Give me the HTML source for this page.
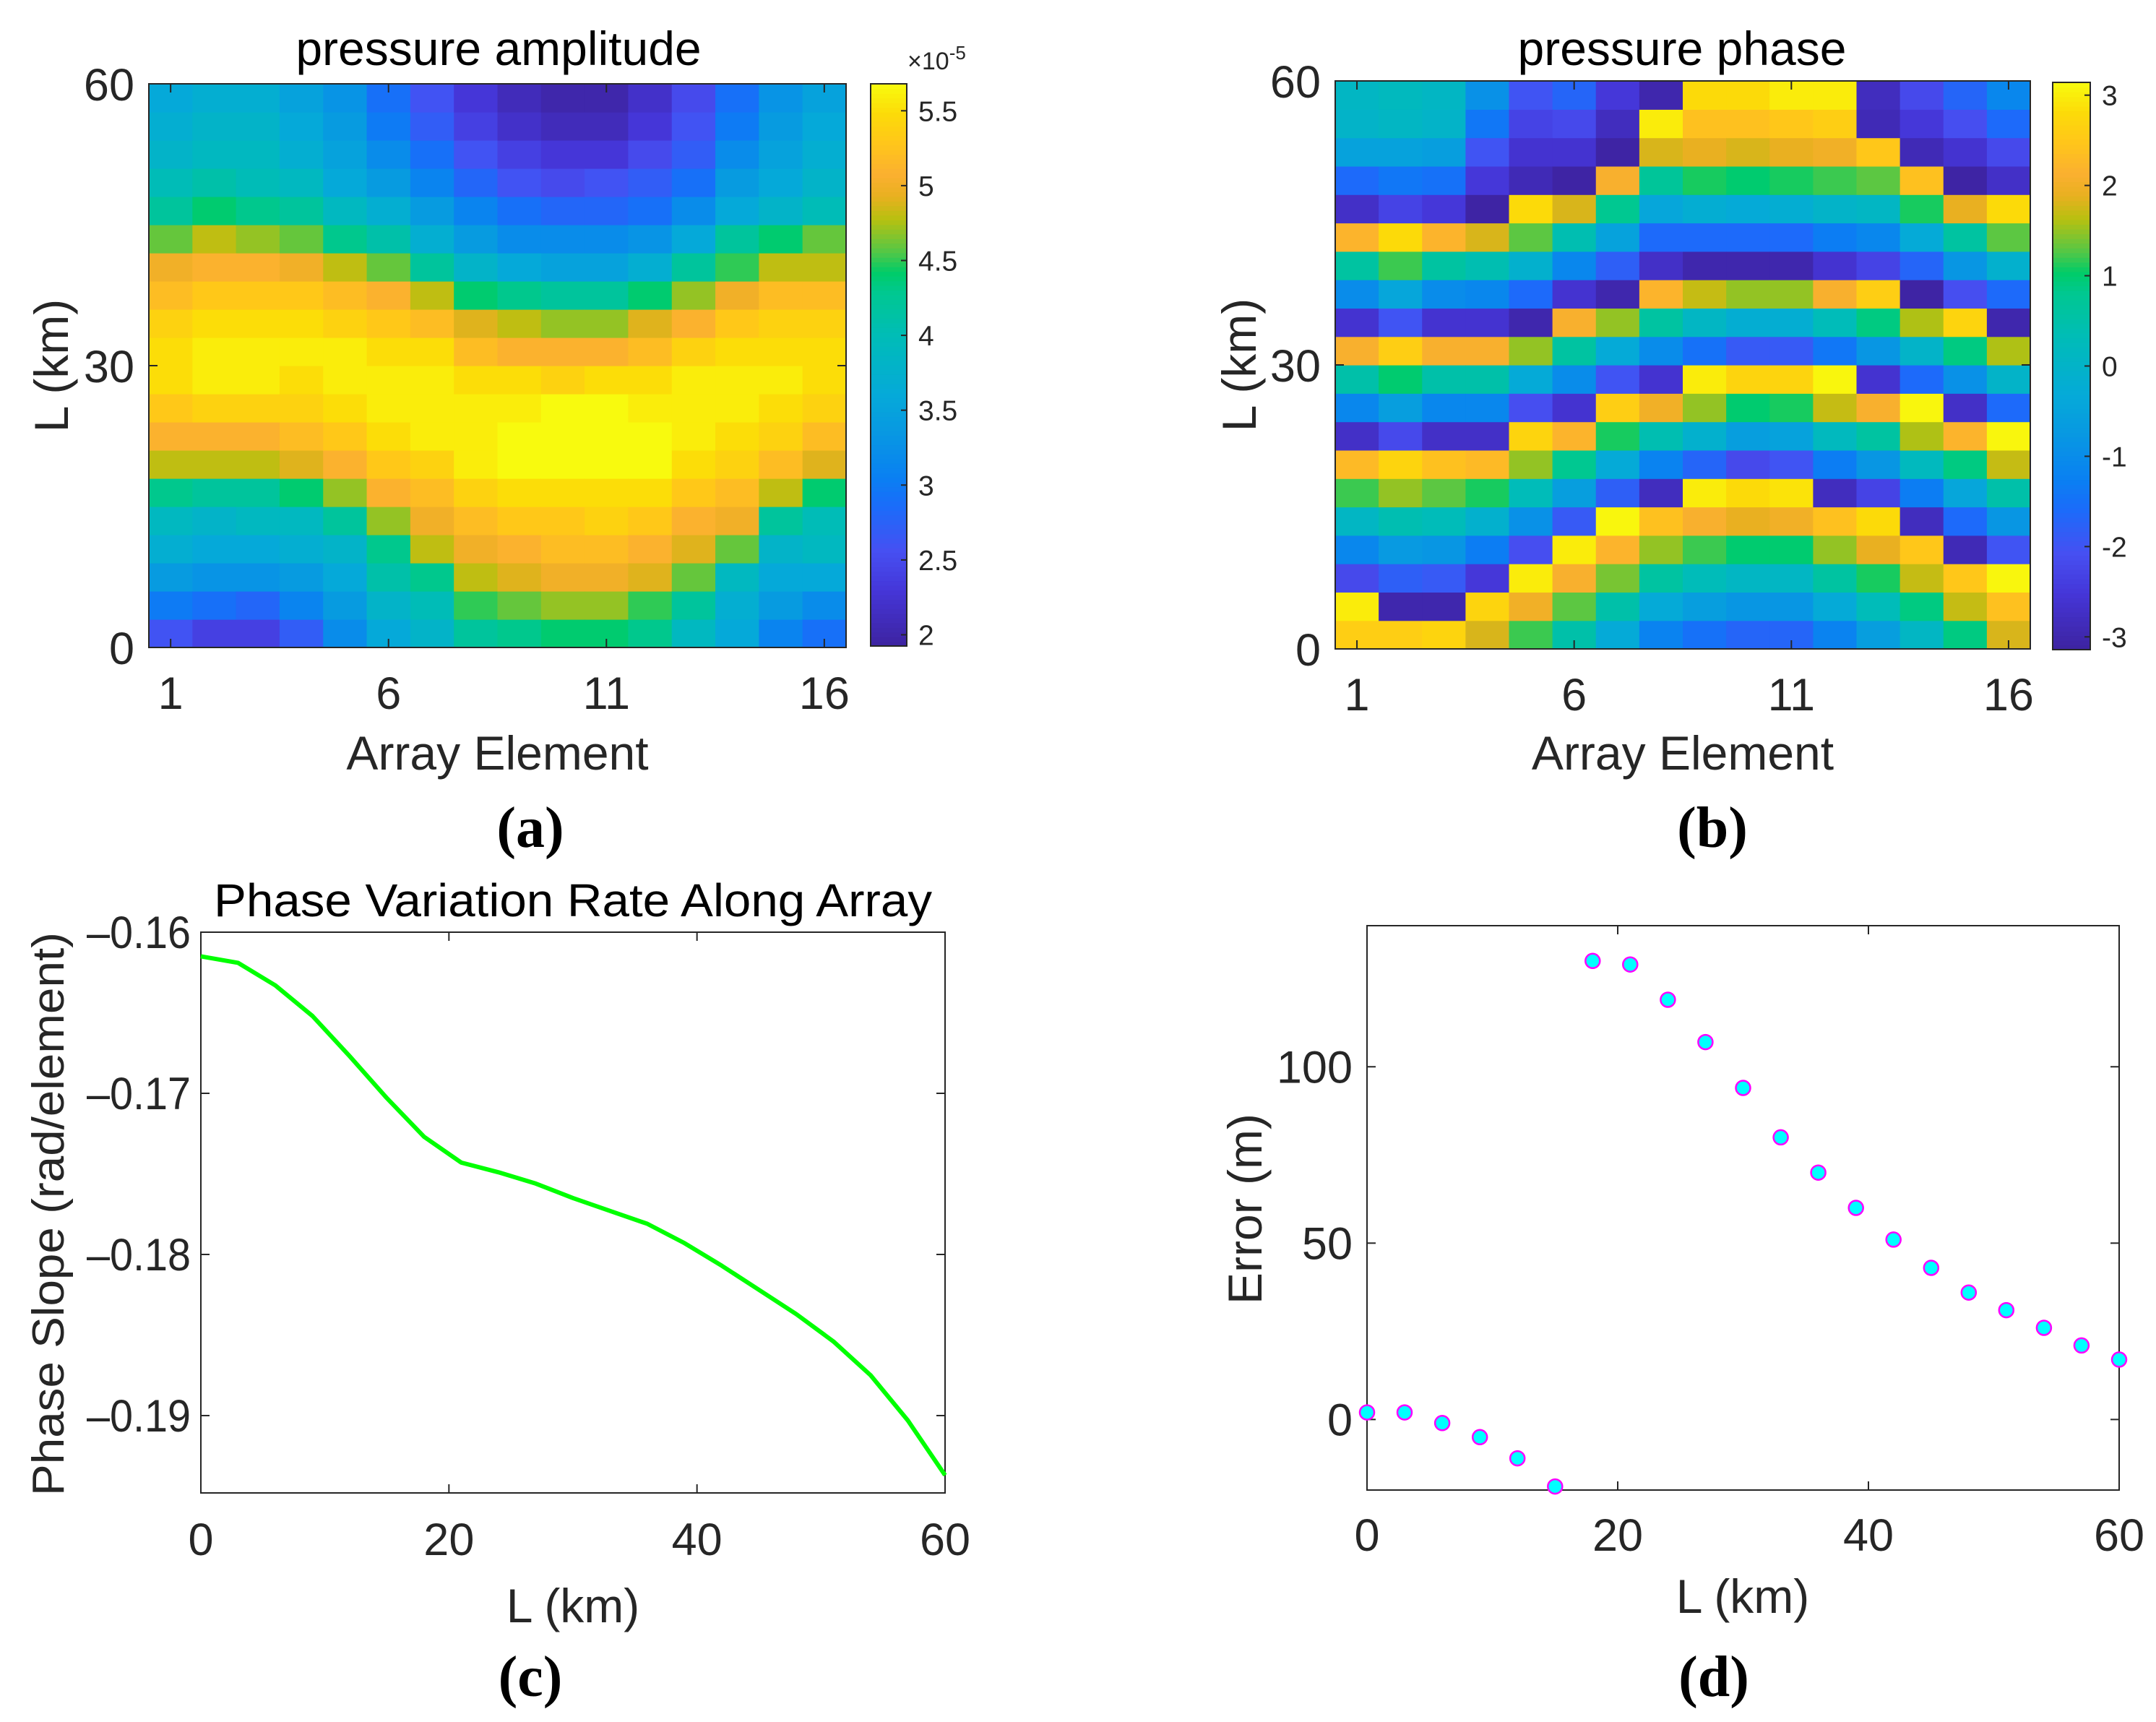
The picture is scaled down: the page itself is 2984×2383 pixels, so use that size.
<!DOCTYPE html>
<html><head><meta charset="utf-8"><style>
html,body{margin:0;padding:0;background:#fff;}
svg{display:block;font-family:"Liberation Sans",Arial,sans-serif;}
</style></head><body>
<svg id="fig" width="2984" height="2383" viewBox="0 0 2984 2383" xmlns="http://www.w3.org/2000/svg">
<rect x="0" y="0" width="2984" height="2383" fill="#fff"/>
<g id="pa"></g>
<g id="pb"></g>
<g id="pc"></g>
<g id="pd"></g>
</svg>
<script>
// ---------- data ----------
const elements = [1,2,3,4,5,6,7,8,9,10,11,12,13,14,15,16];
const rowL = [1.5,4.5,7.5,10.5,13.5,16.5,19.5,22.5,25.5,28.5,31.5,34.5,37.5,40.5,43.5,46.5,49.5,52.5,55.5,58.5];
// amplitude (x1e-5), one array per array element, bottom to top
const amp1=[2.6,3.0,3.4,3.7,3.9,4.3,4.8,5.1,5.3,5.5,5.5,5.4,5.2,5.0,4.6,4.2,4.0,3.8,3.7,3.6];
const amp2=[2.4,2.9,3.3,3.6,3.8,4.2,4.8,5.1,5.4,5.6,5.6,5.5,5.3,5.1,4.8,4.4,4.1,3.9,3.8,3.7];
const amp3=[2.4,2.8,3.3,3.6,3.9,4.2,4.8,5.1,5.4,5.6,5.6,5.5,5.3,5.1,4.7,4.3,4.0,3.9,3.8,3.7];
const amp4=[2.7,3.1,3.4,3.7,3.9,4.4,4.9,5.2,5.4,5.5,5.6,5.5,5.3,5.0,4.6,4.2,3.9,3.7,3.6,3.5];
const amp5=[3.2,3.4,3.6,3.8,4.2,4.7,5.1,5.3,5.5,5.6,5.6,5.4,5.2,4.8,4.3,3.9,3.6,3.5,3.4,3.3];
const amp6=[3.6,3.8,4.1,4.3,4.7,5.1,5.3,5.5,5.6,5.6,5.5,5.3,5.1,4.6,4.1,3.7,3.4,3.2,3.0,2.9];
const amp7=[3.8,4.0,4.3,4.8,5.0,5.2,5.4,5.6,5.6,5.6,5.5,5.2,4.8,4.2,3.7,3.4,3.1,2.9,2.7,2.6];
const amp8=[4.2,4.5,4.8,5.0,5.2,5.4,5.6,5.6,5.6,5.5,5.2,4.9,4.4,3.8,3.4,3.1,2.8,2.6,2.4,2.3];
const amp9=[4.3,4.6,4.9,5.1,5.3,5.5,5.7,5.7,5.6,5.5,5.1,4.8,4.3,3.6,3.2,2.9,2.6,2.4,2.2,2.1];
const amp10=[4.4,4.7,5.0,5.2,5.3,5.5,5.7,5.7,5.7,5.4,5.1,4.7,4.2,3.5,3.2,2.8,2.5,2.3,2.1,2.0];
const amp11=[4.4,4.7,5.0,5.2,5.4,5.5,5.7,5.7,5.7,5.5,5.1,4.7,4.2,3.5,3.2,2.8,2.6,2.3,2.1,2.0];
const amp12=[4.3,4.5,4.9,5.1,5.3,5.5,5.7,5.7,5.6,5.5,5.2,4.9,4.4,3.7,3.3,2.9,2.7,2.5,2.3,2.2];
const amp13=[3.9,4.2,4.6,4.9,5.1,5.3,5.5,5.6,5.6,5.6,5.4,5.1,4.7,4.2,3.6,3.2,2.9,2.7,2.6,2.5];
const amp14=[3.6,3.7,3.9,4.6,5.0,5.2,5.4,5.5,5.6,5.6,5.5,5.3,5.0,4.5,4.2,3.6,3.4,3.2,3.0,2.9];
const amp15=[3.1,3.4,3.6,3.8,4.2,4.8,5.2,5.4,5.5,5.6,5.5,5.4,5.2,4.8,4.4,3.8,3.6,3.5,3.4,3.3];
const amp16=[2.9,3.2,3.6,3.9,4.0,4.4,4.9,5.2,5.4,5.5,5.5,5.4,5.2,4.8,4.6,4.0,3.8,3.7,3.6,3.5];
const ampCols=[amp1,amp2,amp3,amp4,amp5,amp6,amp7,amp8,amp9,amp10,amp11,amp12,amp13,amp14,amp15,amp16];
// phase (rad), one array per array element, bottom to top
const ph1=[2.6,3.0,-2.2,-1.1,0.1,1.2,2.3,-2.7,-1.1,0.5,2.1,-2.6,-1.0,0.6,2.2,-2.7,-1.6,-0.5,0.0,0.1];
const ph2=[2.6,-3.0,-1.8,-0.7,0.4,1.5,2.7,-2.2,-0.6,1.0,2.6,-2.0,-0.4,1.2,2.8,-2.3,-1.4,-0.5,0.1,0.2];
const ph3=[2.7,-3.0,-1.9,-0.8,0.3,1.3,2.4,-2.7,-1.1,0.5,2.1,-2.6,-1.0,0.6,2.2,-2.5,-1.5,-0.6,0.0,0.1];
const ph4=[1.8,2.7,-2.5,-1.3,-0.1,1.1,2.3,-2.7,-1.1,0.5,2.1,-2.6,-1.1,0.4,1.8,-3.1,-2.5,-2.0,-1.4,-0.9];
const ph5=[1.2,2.0,3.0,-2.1,-0.9,0.3,1.5,2.7,-2.1,-0.3,1.5,-3.0,-1.6,-0.1,1.3,2.8,-2.9,-2.6,-2.3,-2.0];
const ph6=[0.5,1.3,2.1,3.0,-1.9,-0.6,0.8,2.2,-2.6,-1.0,0.6,2.1,-2.6,-1.1,0.4,1.8,-3.1,-2.6,-2.2,-1.7];
const ph7=[-0.3,0.5,1.4,2.2,3.1,-1.8,-0.3,1.1,2.6,-2.0,-0.3,1.5,-3.0,-1.8,-0.5,0.8,2.1,-3.1,-2.8,-2.5];
const ph8=[-1.2,-0.3,0.6,1.5,2.4,-2.8,-1.2,0.4,2.0,-2.6,-1.0,0.6,2.2,-2.7,-1.6,-0.4,0.7,1.8,3.0,-3.0];
const ph9=[-1.5,-0.6,0.3,1.2,2.1,3.0,-1.7,-0.1,1.5,3.0,-1.5,0.1,1.7,-3.0,-1.6,-0.2,1.1,1.9,2.4,2.8];
const ph10=[-1.7,-0.8,0.1,1.0,1.9,2.8,-2.2,-0.6,1.0,2.7,-1.9,-0.2,1.5,-3.0,-1.6,-0.3,1.0,1.8,2.4,2.8];
const ph11=[-1.7,-0.8,0.1,1.0,2.0,2.9,-2.0,-0.5,1.1,2.7,-1.9,-0.2,1.5,-3.0,-1.6,-0.2,1.1,1.9,2.5,3.0];
const ph12=[-1.2,-0.3,0.6,1.5,2.4,-2.8,-1.3,0.2,1.7,3.1,-1.4,0.3,2.1,-2.6,-1.3,0.0,1.2,2.0,2.6,3.0];
const ph13=[-0.6,0.3,1.1,1.9,2.8,-2.3,-0.8,0.6,2.1,-2.6,-0.8,0.9,2.6,-2.3,-1.1,0.1,1.3,2.5,-2.9,-2.8];
const ph14=[0.1,0.9,1.7,2.5,-2.8,-1.3,0.2,1.6,3.1,-1.6,0.0,1.6,-3.1,-1.7,-0.3,1.1,2.4,-2.9,-2.5,-2.2];
const ph15=[0.9,1.7,2.5,-2.9,-1.6,-0.4,0.9,2.2,-2.7,-0.9,0.9,2.7,-2.1,-0.8,0.6,1.9,-3.1,-2.6,-2.1,-1.7];
const ph16=[1.8,2.4,3.1,-2.0,-0.8,0.5,1.7,3.1,-1.6,0.0,1.6,-3.0,-1.6,-0.1,1.3,2.8,-2.7,-2.2,-1.6,-1.1];
const phCols=[ph1,ph2,ph3,ph4,ph5,ph6,ph7,ph8,ph9,ph10,ph11,ph12,ph13,ph14,ph15,ph16];
// panel c
const slopeL=[0,3,6,9,12,15,18,21,24,27,30,33,36,39,42,45,48,51,54,57,60];
const slopeVals=[-0.1615,-0.1619,-0.1633,-0.1652,-0.1677,-0.1703,-0.1727,-0.1743,-0.1749,-0.1756,-0.1765,-0.1773,-0.1781,-0.1793,-0.1807,-0.1822,-0.1837,-0.1854,-0.1875,-0.1903,-0.1937];
// panel d
const errL=[0,3,6,9,12,15,18,21,24,27,30,33,36,39,42,45,48,51,54,57,60];
const errVals=[2,2,-1,-5,-11,-19,130,129,119,107,94,80,70,60,51,43,36,31,26,21,17];
// tick labels
const elemTicks=[1,6,11,16];
const lTicks=[0,30,60];
const ampCbTicks=["2","2.5","3","3.5","4","4.5","5","5.5"];
const phCbTicks=["-3","-2","-1","0","1","2","3"];
const cTicksX=[0,20,40,60];
const cTicksY=["-0.16","-0.17","-0.18","-0.19"];
const dTicksX=[0,20,40,60];
const dTicksY=[0,50,100];

// ---------- helpers ----------
const NS="http://www.w3.org/2000/svg";
function mk(parent,tag,attrs,text){const e=document.createElementNS(NS,tag);for(const k in attrs)e.setAttribute(k,attrs[k]);if(text!==undefined)e.textContent=text;parent.appendChild(e);return e;}
const stops=[[0,[61,35,160]],[0.10,[69,54,216]],[0.17,[70,80,242]],[0.25,[26,108,250]],[0.30,[10,128,242]],[0.38,[8,152,226]],[0.45,[5,170,216]],[0.55,[0,188,184]],[0.63,[0,200,144]],[0.665,[0,204,104]],[0.70,[80,200,72]],[0.76,[184,192,16]],[0.80,[232,176,32]],[0.84,[251,176,48]],[0.90,[255,200,24]],[0.95,[252,220,8]],[1,[248,250,14]]];
function cmap(t){t=Math.max(0,Math.min(1,t));for(let i=1;i<stops.length;i++){if(t<=stops[i][0]){const a=stops[i-1],b=stops[i];const f=(t-a[0])/(b[0]-a[0]);const c=a[1].map((v,j)=>Math.round(v+(b[1][j]-v)*f));return `rgb(${c[0]},${c[1]},${c[2]})`;}}return "rgb(248,250,14)";}
const TXT="#262626";
const TICKFS=63, LABFS=66;

function heatPanel(g,P,cols,vmin,vmax,cb,cbTickVals,cbTickLabels,title,titleX){
  const xs=e=>P.x0+(e-0.5)*(P.x1-P.x0)/16;
  const ys=L=>P.y1-(L/60)*(P.y1-P.y0);
  const cw=(P.x1-P.x0)/16;
  const cells=mk(g,'g',{});
  
  
  cols.forEach((col,ci)=>{
    col.forEach((v,ri)=>{
      const L=rowL[ri];
      const yTop=ys(L+1.5), yBot=ys(L-1.5);
      const r=mk(cells,'rect',{x:(xs(elements[ci])-cw/2).toFixed(2),y:yTop.toFixed(2),width:(cw+0.6).toFixed(2),height:(yBot-yTop+0.6).toFixed(2),fill:cmap((v-vmin)/(vmax-vmin))});
      
      
    });
  });
  mk(g,'rect',{x:P.x0,y:P.y0,width:P.x1-P.x0,height:P.y1-P.y0,fill:'none',stroke:TXT,'stroke-width':2});
  elemTicks.forEach(e=>{const x=xs(e);
    mk(g,'line',{x1:x,x2:x,y1:P.y1,y2:P.y1-12,stroke:TXT,'stroke-width':2});
    mk(g,'line',{x1:x,x2:x,y1:P.y0,y2:P.y0+12,stroke:TXT,'stroke-width':2});
    const t=mk(g,'text',{x:x,y:P.y1+85,'text-anchor':'middle','font-size':TICKFS,fill:TXT},String(e));
    
    
  });
  lTicks.forEach(L=>{const y=ys(L);
    mk(g,'line',{x1:P.x0,x2:P.x0+12,y1:y,y2:y,stroke:TXT,'stroke-width':2});
    mk(g,'line',{x1:P.x1,x2:P.x1-12,y1:y,y2:y,stroke:TXT,'stroke-width':2});
    const t=mk(g,'text',{x:P.x0-20,y:y+23,'text-anchor':'end','font-size':TICKFS,fill:TXT},String(L));
    
    
  });
  const tt=mk(g,'text',{x:titleX,y:90,'text-anchor':'middle','font-size':LABFS,fill:'#000'},title);
  
  
  const xl=mk(g,'text',{x:(P.x0+P.x1)/2,y:1065,'text-anchor':'middle','font-size':LABFS,fill:TXT},'Array Element');
  
  
  const yl=mk(g,'text',{x:0,y:0,'text-anchor':'middle','font-size':LABFS,fill:TXT,transform:`translate(${P.yl},${(P.y0+P.y1)/2}) rotate(-90)`},'L (km)');
  
  
  // colorbar
  const cbg=mk(g,'g',{});
  
  
  const n=120;
  for(let i=0;i<n;i++){const y=cb.y1-(i+1)*(cb.y1-cb.y0)/n;
    mk(cbg,'rect',{x:cb.x0,y:y.toFixed(2),width:cb.x1-cb.x0,height:((cb.y1-cb.y0)/n+0.8).toFixed(2),fill:cmap((i+0.5)/n)});}
  mk(cbg,'rect',{x:cb.x0,y:cb.y0,width:cb.x1-cb.x0,height:cb.y1-cb.y0,fill:'none',stroke:TXT,'stroke-width':2});
  cbTickVals.forEach((v,i)=>{const y=cb.y1-(v-vmin)/(vmax-vmin)*(cb.y1-cb.y0);
    mk(cbg,'line',{x1:cb.x1,x2:cb.x1-8,y1:y,y2:y,stroke:TXT,'stroke-width':2});
    const t=mk(cbg,'text',{x:cb.x1+16,y:y+14,'font-size':39,fill:TXT},cbTickLabels[i]);
    
    
  });
}

// panel a
heatPanel(document.getElementById('pa'),{x0:206,x1:1171,y0:116,y1:896,yl:94},ampCols,1.925,5.68,{x0:1205,x1:1255,y0:116,y1:894},ampCbTicks.map(Number),ampCbTicks,'pressure amplitude',690);
(function(){const g=document.getElementById('pa');
  const t=mk(g,'text',{x:1256,y:96,'font-size':34,fill:TXT},'×10');
  mk(t,'tspan',{dy:-14,'font-size':26},'-5');
  
  
})();
// panel b
heatPanel(document.getElementById('pb'),{x0:1848,x1:2810,y0:112,y1:898,yl:1738},phCols,-Math.PI,Math.PI,{x0:2841,x1:2893,y0:114,y1:899},phCbTicks.map(Number),phCbTicks,'pressure phase',2328);

// panel labels
[['(a)',734,1172],['(b)',2370,1172],['(c)',734,2347],['(d)',2372,2347]].forEach(([s,x,y])=>{
  const t=mk(document.getElementById('fig'),'text',{x:x,y:y,'text-anchor':'middle','font-size':80,'font-weight':'bold','font-family':'"Liberation Serif",serif',fill:'#000'},s);
  
  
});

function axesFrame(g,P){
  mk(g,'rect',{x:P.x0,y:P.y0,width:P.x1-P.x0,height:P.y1-P.y0,fill:'#fff',stroke:TXT,'stroke-width':2});
}
// panel c
(function(){
  const g=document.getElementById('pc');
  const P={x0:278,x1:1308,y0:1290,y1:2066};
  const xmin=0,xmax=60,ymax=-0.16,ymin=-0.1948;
  const xs=v=>P.x0+(v-xmin)/(xmax-xmin)*(P.x1-P.x0);
  const ys=v=>P.y1-(v-ymin)/(ymax-ymin)*(P.y1-P.y0);
  axesFrame(g,P);
  cTicksX.forEach(v=>{const x=xs(v);
    mk(g,'line',{x1:x,x2:x,y1:P.y1,y2:P.y1-12,stroke:TXT,'stroke-width':2});
    mk(g,'line',{x1:x,x2:x,y1:P.y0,y2:P.y0+12,stroke:TXT,'stroke-width':2});
    const t=mk(g,'text',{x:x,y:2152,'text-anchor':'middle','font-size':TICKFS,fill:TXT},String(v));
    
    
  });
  cTicksY.forEach(s=>{const y=ys(Number(s));
    mk(g,'line',{x1:P.x0,x2:P.x0+12,y1:y,y2:y,stroke:TXT,'stroke-width':2});
    mk(g,'line',{x1:P.x1,x2:P.x1-12,y1:y,y2:y,stroke:TXT,'stroke-width':2});
    const t=mk(g,'text',{x:P.x0-14,y:y+22,'text-anchor':'end','font-size':TICKFS,fill:TXT,textLength:144,lengthAdjust:'spacingAndGlyphs'},s.replace('-','\u2013'));
    
    
  });
  const d=slopeL.map((L,i)=>(i?'L':'M')+xs(L).toFixed(1)+','+ys(slopeVals[i]).toFixed(1)).join(' ');
  const line=mk(g,'path',{d:d,fill:'none',stroke:'#00ff00','stroke-width':6,'stroke-linejoin':'round'});
  
  
  const tt=mk(g,'text',{x:793,y:1268,'text-anchor':'middle','font-size':64,fill:'#000',textLength:994,lengthAdjust:'spacingAndGlyphs'},'Phase Variation Rate Along Array');
  
  
  const xl=mk(g,'text',{x:793,y:2245,'text-anchor':'middle','font-size':LABFS,fill:TXT},'L (km)');
  
  
  const yl=mk(g,'text',{x:0,y:0,'text-anchor':'middle','font-size':62,fill:TXT,transform:'translate(88,1680) rotate(-90)',textLength:780,lengthAdjust:'spacingAndGlyphs'},'Phase Slope (rad/element)');
  
  
})();
// panel d
(function(){
  const g=document.getElementById('pd');
  const P={x0:1892,x1:2933,y0:1281,y1:2062};
  const xmin=0,xmax=60,ymin=-20,ymax=140;
  const xs=v=>P.x0+(v-xmin)/(xmax-xmin)*(P.x1-P.x0);
  const ys=v=>P.y1-(v-ymin)/(ymax-ymin)*(P.y1-P.y0);
  axesFrame(g,P);
  dTicksX.forEach(v=>{const x=xs(v);
    mk(g,'line',{x1:x,x2:x,y1:P.y1,y2:P.y1-12,stroke:TXT,'stroke-width':2});
    mk(g,'line',{x1:x,x2:x,y1:P.y0,y2:P.y0+12,stroke:TXT,'stroke-width':2});
    const t=mk(g,'text',{x:x,y:2146,'text-anchor':'middle','font-size':TICKFS,fill:TXT},String(v));
    
    
  });
  dTicksY.forEach(v=>{const y=ys(v);
    mk(g,'line',{x1:P.x0,x2:P.x0+12,y1:y,y2:y,stroke:TXT,'stroke-width':2});
    mk(g,'line',{x1:P.x1,x2:P.x1-12,y1:y,y2:y,stroke:TXT,'stroke-width':2});
    const t=mk(g,'text',{x:P.x0-20,y:y+22,'text-anchor':'end','font-size':TICKFS,fill:TXT},String(v));
    
    
  });
  errL.forEach((L,i)=>{
    const c=mk(g,'circle',{cx:xs(L).toFixed(1),cy:ys(errVals[i]).toFixed(1),r:10,fill:'#00ffff',stroke:'#ff00ff','stroke-width':2.5});
    
    
  });
  const xl=mk(g,'text',{x:2412,y:2232,'text-anchor':'middle','font-size':LABFS,fill:TXT},'L (km)');
  
  
  const yl=mk(g,'text',{x:0,y:0,'text-anchor':'middle','font-size':LABFS,fill:TXT,transform:'translate(1746,1673) rotate(-90)'},'Error (m)');
  
  
})();
</script>
</body></html>
